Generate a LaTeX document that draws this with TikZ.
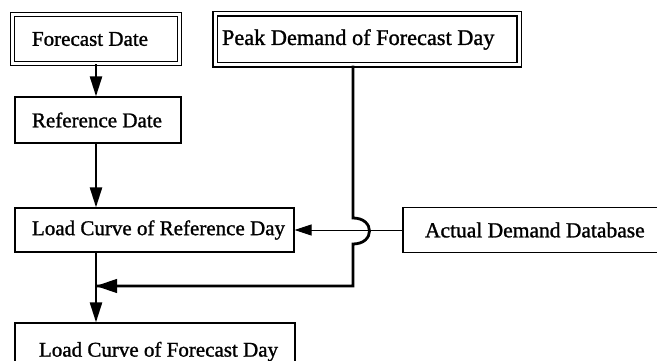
\documentclass[tikz,border=0pt]{standalone}
\usepackage{fontspec}
\setmainfont{Liberation Serif}[FakeBold=1.2]
\usetikzlibrary{arrows.meta}

% left-aligned label in a fixed-width slot, never wrapped
\newcommand{\slot}[2]{\makebox[#1][l]{#2}}

\begin{document}
\begin{tikzpicture}[x=1pt,y=-1pt,
  lbl/.style={font=\fontsize{21}{24}\selectfont, inner sep=0pt},
  plainbox/.style={lbl, draw, line width=1.2pt},
  doublebox/.style={lbl, draw, line width=1.1pt, double, double distance=3pt},
  mainarrow/.style={line width=2.4pt, -{Triangle[length=20pt,width=12pt]}},
  feedline/.style={line width=2.8pt},
  thinarrow/.style={line width=1pt, -{Triangle[length=17pt,width=11pt]}}
]
\useasboundingbox (0,0) rectangle (657,361);
\clip (0,0) rectangle (657,361);

% boxes
\node[doublebox, minimum width=167pt, minimum height=49pt] (fd) at (96,39) {\slot{128pt}{Forecast Date}};
\node[doublebox, minimum width=304pt, minimum height=51pt, font=\fontsize{22.3}{25}\selectfont] (pd) at (367,39.5) {\slot{290pt}{Peak Demand of Forecast Day}};
\node[plainbox, minimum width=166pt, minimum height=46pt] (rd) at (98,120) {\slot{132pt}{Reference Date}};
\node[plainbox, minimum width=279pt, minimum height=44pt] (lcrd) at (154.5,230) {\slot{245pt}{Load Curve of Reference Day}};
\node[plainbox, minimum width=280pt, minimum height=45pt, font=\fontsize{21.5}{24}\selectfont] (adb) at (543,230) {\slot{236pt}{Actual Demand Database}};
\node[plainbox, minimum width=280pt, minimum height=57pt] (lcfd) at (155,351.5) {\slot{232pt}{Load Curve of Forecast Day}};

% main chain
\draw[mainarrow] (fd.south) -- (fd.south |- rd.north);
\draw[mainarrow] (fd.south |- rd.south) -- (fd.south |- lcrd.north);
\draw[mainarrow] (fd.south |- lcrd.south) -- (fd.south |- lcfd.north);

% database feed into the reference-day curve
\draw[thinarrow] (adb.west) -- (lcrd.east);

% peak demand line, hopping over the database feed
\coordinate (jt) at (353,218);
\coordinate (jb) at (353,244);
\coordinate (turn) at (353,286);
\coordinate (merge) at (96,286);
\draw[feedline] (jt |- pd.south) -- (jt) .. controls +(22,0) and +(22,0) .. (jb) -- (turn) -- (merge |- turn);
\draw[line width=1.2pt, -{Triangle[length=21pt,width=14pt]}] (turn) -- (merge);
\end{tikzpicture}
\end{document}
